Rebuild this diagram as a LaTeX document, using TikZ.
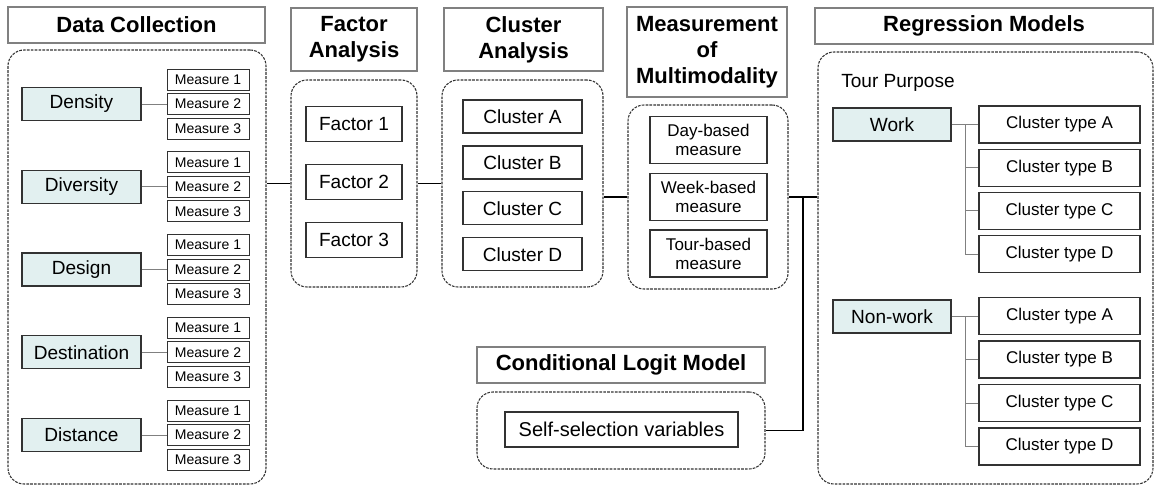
\documentclass[tikz,border=0pt]{standalone}
\usepackage{fontspec}
\setmainfont{Liberation Sans}
\usetikzlibrary{calc}
\definecolor{boxblue}{RGB}{226,240,240}
\definecolor{rim}{RGB}{50,50,50}

\begin{document}
\begin{tikzpicture}[x=0.75pt,y=-0.75pt,
  head/.style={draw=gray, line width=0.8pt, inner sep=0, align=center, font=\fontsize{16.5}{19.5}\selectfont\bfseries},
  group/.style={draw=rim, line width=0.8pt, dash pattern=on 2pt off 0.9pt, rounded corners=12pt, inner sep=0},
  item/.style={draw=rim, line width=0.9pt, fill=white, inner sep=0, align=center, font=\fontsize{14.3}{17}\selectfont},
  dim/.style={item, fill=boxblue, minimum width=89.25pt, minimum height=24.75pt},
  msr/.style={item, line width=0.7pt, minimum width=61.5pt, minimum height=15.75pt, font=\fontsize{10.5}{12}\selectfont},
  fac/.style={item, minimum width=72pt, minimum height=26.25pt},
  clu/.style={item, minimum width=89.25pt, minimum height=24.75pt},
  mms/.style={item, minimum width=87.75pt, minimum height=35.25pt, font=\fontsize{12.75}{14.25}\selectfont},
  ctp/.style={item, minimum width=120.75pt, minimum height=27.75pt, font=\fontsize{12.75}{15}\selectfont},
  link/.style={line width=1.4pt},
  twig/.style={gray, line width=0.7pt}]
\useasboundingbox (0,0) rectangle (1155,486);

\begin{scope}
\node[head, minimum width=192.75pt, minimum height=27pt] (dch) at (136.5,25) {Data Collection};
\node[group, minimum width=193.5pt, minimum height=325.5pt] (dcg) at (137,267) {};
\foreach \i/\t in {0/Density,1/Diversity,2/Design,3/Destination,4/Distance} {
  \node[dim] (d\i) at (81.5,104+82.75*\i) {\t};
  \foreach \j in {1,2,3} \node[msr] (d\i-\j) at (208,104+82.75*\i+24.5*\j-49) {Measure \j};
  \draw[twig] (d\i.east) -- (d\i-2.west);
}
\end{scope}

\begin{scope}
\node[head, minimum width=94.5pt, minimum height=47.25pt] (fah) at (354,39.5) {Factor\\Analysis};
\node[group, minimum width=94.5pt, minimum height=155.25pt] (fag) at (354,183.5) {};
\foreach \i in {1,2,3} \node[fac] (f\i) at (354,66+58*\i) {Factor \i};
\end{scope}

\begin{scope}
\node[head, minimum width=119.25pt, minimum height=47.25pt] (clh) at (523.5,39.5) {Cluster\\Analysis};
\node[group, minimum width=120.75pt, minimum height=155.25pt] (clg) at (522.5,183.5) {};
\foreach \i/\c in {0/A,1/B,2/C,3/D} \node[clu] (c\c) at (522.5,116.5+45.9*\i) {Cluster \c};
\end{scope}

\begin{scope}
\node[head, minimum width=120pt, minimum height=67.5pt] (mmh) at (707,52) {Measurement\\of\\Multimodality};
\node[group, minimum width=120pt, minimum height=138pt] (mmg) at (708,197) {};
\foreach \i/\t in {0/Day,1/Week,2/Tour} \node[mms] (m\i) at (708.5,140+56.75*\i) {\t-based\\measure};
\end{scope}

\begin{scope}
\node[head, minimum width=253.5pt, minimum height=27pt] (rmh) at (984,26) {Regression Models};
\node[group, minimum width=251.25pt, minimum height=324pt] (rmg) at (985.5,268) {};
\node[anchor=west, inner sep=0, font=\fontsize{14.3}{17}\selectfont] (tp) at (841,83) {Tour Purpose};
\node[dim, minimum width=88.5pt] (work) at (892,124.5) {Work};
\node[dim, minimum width=88.5pt] (nonwork) at (892,316.5) {Non-work};
\foreach \i/\c in {0/A,1/B,2/C,3/D} {
  \node[ctp] (w\c) at (1059.5,124.5+43.2*\i) {Cluster type \c};
  \node[ctp] (n\c) at (1059.5,316+43.5*\i) {Cluster type \c};
}
\coordinate (wt) at ($(work.east)+(14,0)$);
\coordinate (nt) at ($(nonwork.east)+(14,0)$);
\draw[twig] (work.east) -- (wt);
\draw[twig] (nonwork.east) -- (nt);
\foreach \c in {A,B,C,D} {
  \draw[twig] (wt) |- (w\c.west);
  \draw[twig] (nt) |- (n\c.west);
}
\end{scope}

\begin{scope}
\node[head, minimum width=216pt, minimum height=27pt] (lgh) at (621,365) {Conditional Logit Model};
\node[group, minimum width=216pt, minimum height=57.75pt] (lgg) at (621,430.5) {};
\node[item, minimum width=174.75pt, minimum height=26.25pt, font=\fontsize{15}{18}\selectfont] (self) at (621.5,429.5) {Self-selection variables};
\end{scope}

\draw[link] (fag.west) -- (fag.west -| dcg.east);
\draw[link] (fag.east) -- (clg.west);
\draw[link] (mmg.west) -- (mmg.west -| clg.east);
\draw[link] (mmg.east) -- (mmg.east -| rmg.west);
\coordinate (jn) at ($(mmg.east)!0.5!(mmg.east -| rmg.west)$);
\draw[link] (jn) |- (lgg.east);
\end{tikzpicture}
\end{document}
